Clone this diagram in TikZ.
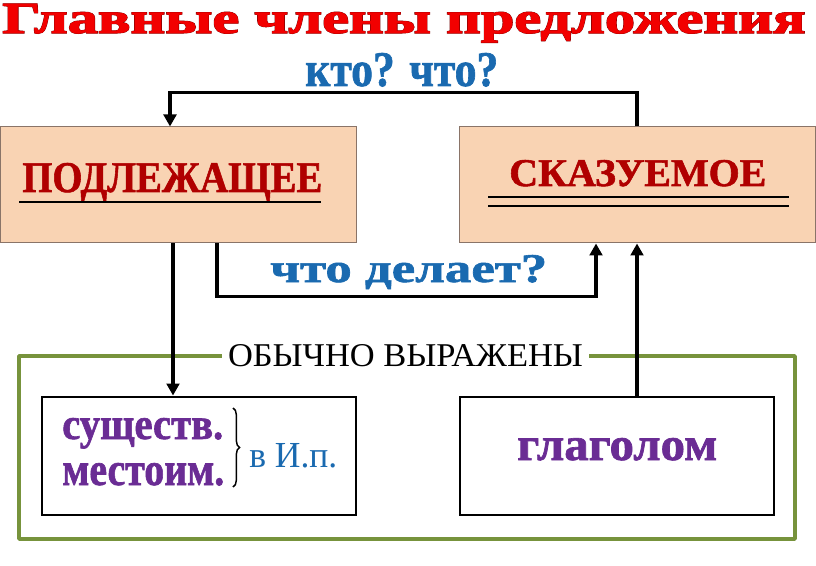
\documentclass[tikz,border=0pt]{standalone}
\usepackage{fontspec}
\setmainfont{Liberation Serif}
\newfontface\heavy[FakeBold=1.4]{Liberation Serif Bold}
\newfontface\edgefont[FakeBold=2.6]{Liberation Serif Bold}
\usepackage{graphicx}
\usepackage{xcolor}
\usepackage{tikz}
\usetikzlibrary{arrows.meta,decorations.pathreplacing}

\definecolor{titlered}{HTML}{F20000}
\definecolor{titleedge}{HTML}{6E0000}
\definecolor{darkred}{HTML}{B00000}
\definecolor{qblue}{HTML}{1A6AB0}
\definecolor{wpurple}{HTML}{6A2C94}
\definecolor{peach}{HTML}{F9D3B3}
\definecolor{peachline}{HTML}{8A7468}
\definecolor{olive}{HTML}{77933C}

\newlength\pxu
\setlength\pxu{0.75pt}
\newcommand\fit[3]{\resizebox{#1\pxu}{#2\pxu}{#3}}

\begin{document}
\begin{tikzpicture}[x=0.75pt,y=-0.75pt,
    txt/.style={inner sep=0pt,anchor=base west},
    member/.style={draw=peachline,fill=peach,line width=0.75pt,minimum width=267pt,minimum height=87pt},
    wordbox/.style={draw=black,fill=white,line width=2.2pt,minimum width=235.5pt,minimum height=88.5pt},
    arr/.style={line width=2.6pt,-{Triangle[length=9pt,width=9.5pt]}},
    uline/.style={line width=1.9pt}]
    \useasboundingbox (0,0) rectangle (816,566);

    \node[member] (podl) at (178,185) {};
    \node[member] (skaz) at (637,185) {};
    \node[wordbox] (sushch) at (199,456) {};
    \node[wordbox] (glag) at (617,456) {};

    \node[txt,text=titleedge] (titleb) at (2,33) {\fit{803}{29}{\edgefont Главные члены предложения}};
    \node[txt,text=titlered] (title) at (2,33) {\fit{803}{29}{\heavy Главные члены предложения}};
    \node[txt,text=qblue] (kto) at (305,86) {\fit{193}{33}{\heavy кто? что?}};
    \node[txt,text=darkred] (podlt) at (22,192) {\fit{300}{29}{\heavy ПОДЛЕЖАЩЕЕ}};
    \node[txt,text=darkred] (skazt) at (509,186) {\fit{257}{26}{\heavy СКАЗУЕМОЕ}};
    \node[txt,text=qblue] (delaet) at (270,282) {\fit{277}{27}{\heavy что делает?}};
    \node[inner xsep=4.5pt,inner ysep=0pt] (obych) at (405.5,356) {\fit{355}{22}{ОБЫЧНО ВЫРАЖЕНЫ}};
    \node[txt,text=wpurple] (sush) at (62,439) {\fit{161}{21}{\heavy существ.}};
    \node[txt,text=wpurple] (mest) at (62,485) {\fit{162}{22}{\heavy местоим.}};
    \node[txt,text=qblue] (ip) at (249,467) {\fit{88}{24}{в И.п.}};
    \node[txt,text=wpurple] (glagt) at (517,460) {\fit{200}{22}{\heavy глаголом}};

    \draw[uline] (19,202) -- (321,202);
    \draw[uline] (488,197) -- (789,197);
    \draw[uline] (488,206) -- (789,206);
    \draw[line width=1.1pt,decorate,decoration={brace,amplitude=5pt}] (233,408) -- (233,487);

    \draw[olive,line width=2.6pt,line join=round] (obych.west) -| (19,539) -| (795,356) -- (obych.east);

    \draw[arr] (skaz.north) -- ++(0,-34) -| ([xshift=-6pt]podl.north);
    \draw[arr] ([xshift=-3.75pt]podl.south) -- ([xshift=-3.75pt]podl.south |- sushch.north);
    \draw[arr] ([xshift=29.25pt]podl.south) -- ++(0,53) -| ([xshift=-30.75pt]skaz.south);
    \draw[arr] ([xshift=15pt]glag.north) -- ([xshift=15pt]glag.north |- skaz.south);
\end{tikzpicture}
\end{document}
